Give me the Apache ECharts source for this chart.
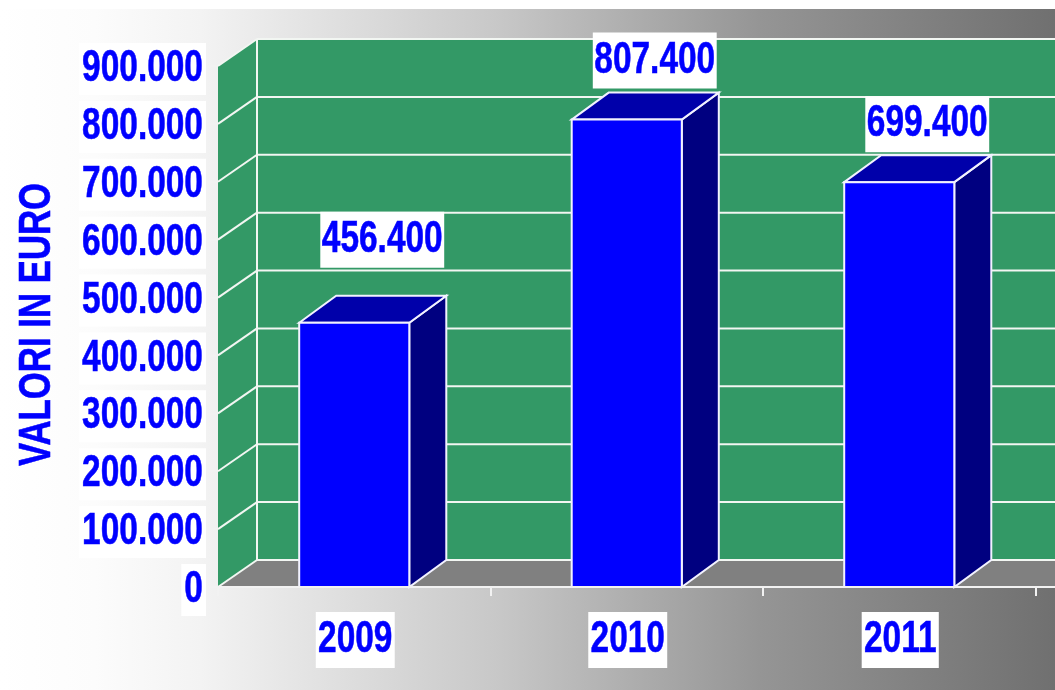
<!DOCTYPE html>
<html>
<head>
<meta charset="utf-8">
<style>
  html, body { margin: 0; padding: 0; background: #fff; overflow: hidden; }
  #chart { width: 1055px; height: 690px; }
</style>
<script src="https://cdn.jsdelivr.net/npm/echarts@6/dist/echarts.min.js"></script>
</head>
<body>
<div id="chart"></div>
<script>
// Yearly values in euro; the trailing blank band lets the box run off the right edge.
const categories = ['2009', '2010', '2011', ''];
const values = [456400, 807400, 699400];
const yTicks = [0, 100000, 200000, 300000, 400000, 500000, 600000, 700000, 800000, 900000];
const axisTitle = 'VALORI IN EURO';

// How far each value label sits above its bar.
const labelLifts = [83, 59, 58];

const FONT = 'bold 44px "Liberation Sans", Arial, sans-serif';
const SQUEEZE = 0.76;
const BLUE = '#0000ff';
const WALL = { dx: 39, dy: -27 };
const BOX = { dx: 37, dy: -27 };

// Italian thousands separator.
const euro = v => String(v).replace(/\B(?=(\d{3})+(?!\d))/g, '.');

function poly(points, fill, stroke) {
  return {
    type: 'polygon',
    shape: { points },
    style: { fill, stroke: stroke || null, lineWidth: stroke ? 2 : 0 }
  };
}

function line(a, b) {
  return {
    type: 'line',
    shape: { x1: a[0], y1: a[1], x2: b[0], y2: b[1] },
    style: { stroke: '#f2f6f2', lineWidth: 2 }
  };
}

// Condensed bold blue text on a white plate.
function plate(text, x, y, align, padY, padX) {
  return {
    type: 'text',
    x,
    y,
    scaleX: SQUEEZE,
    z2: 20,
    style: {
      x: 0,
      y: 0,
      text,
      align,
      verticalAlign: 'middle',
      font: FONT,
      fill: BLUE,
      stroke: BLUE,
      lineWidth: 0.6,
      backgroundColor: '#fff',
      padding: [padY, padX, padY, padX]
    }
  };
}

// Floor, side wall and back wall with their grid lines, plus the axis captions.
function renderRoom(params, api) {
  const cs = params.coordSys;
  const left = cs.x;
  const right = cs.x + cs.width;
  const y0 = api.coord([0, 0])[1];
  const yTop = api.coord([0, yTicks[yTicks.length - 1]])[1];
  const bx = left + WALL.dx;
  const children = [
    poly([[bx, yTop + WALL.dy], [right, yTop + WALL.dy], [right, y0 + WALL.dy], [bx, y0 + WALL.dy]], '#339966'),
    poly([[left, yTop], [bx, yTop + WALL.dy], [bx, y0 + WALL.dy], [left, y0]], '#339966'),
    poly([[left, y0], [bx, y0 + WALL.dy], [right, y0 + WALL.dy], [right, y0]], '#808080'),
    line([bx, yTop + WALL.dy], [bx, y0 + WALL.dy])
  ];
  yTicks.forEach(t => {
    const y = api.coord([0, t])[1];
    children.push(line([left, y], [bx, y + WALL.dy]));
    children.push(line([bx, y + WALL.dy], [right, y + WALL.dy]));
    children.push(plate(euro(t), left - 12, y + 3, 'right', 4, 4));
  });
  categories.filter(Boolean).forEach(c => {
    const x = api.coord([categories.indexOf(c), 0])[0];
    children.push(plate(c, x + 1, y0 + 53, 'center', 6, 3));
  });
  children.push({
    type: 'text',
    x: 38,
    y: (y0 + yTop) / 2 - 2,
    rotation: Math.PI / 2,
    scaleX: 0.79,
    style: {
      x: 0,
      y: 0,
      text: axisTitle,
      align: 'center',
      verticalAlign: 'middle',
      font: FONT,
      fill: BLUE,
      stroke: BLUE,
      lineWidth: 0.6
    }
  });
  return { type: 'group', children };
}

// One extruded bar with its value label.
function renderBox(params, api) {
  const i = api.value(0);
  const v = api.value(1);
  const top = api.coord([i, v]);
  const base = api.coord([i, 0]);
  const w = api.size([1, 0])[0] * 0.404;
  const l = top[0] - w / 2;
  const r = top[0] + w / 2;
  const d = BOX;
  return {
    type: 'group',
    children: [
      poly([[r, top[1]], [r + d.dx, top[1] + d.dy], [r + d.dx, base[1] + d.dy], [r, base[1]]], '#000080', '#f2f2ff'),
      poly([[l, top[1]], [l + d.dx, top[1] + d.dy], [r + d.dx, top[1] + d.dy], [r, top[1]]], '#0000aa', '#f2f2ff'),
      poly([[l, top[1]], [r, top[1]], [r, base[1]], [l, base[1]]], BLUE, '#f2f2ff'),
      plate(euro(v), top[0] + 28, top[1] - labelLifts[i], 'center', 6, 2)
    ]
  };
}

const chart = echarts.init(document.getElementById('chart'), null, { renderer: 'canvas' });
chart.setOption({
  animation: false,
  backgroundColor: '#fff',
  graphic: [{
    type: 'rect',
    z: -10,
    silent: true,
    shape: { x: 0, y: 9, width: 1055, height: 681 },
    style: {
      fill: new echarts.graphic.LinearGradient(0, 0, 1, 0, [
        { offset: 0, color: '#ffffff' },
        { offset: 0.09, color: '#fcfcfc' },
        { offset: 0.19, color: '#f3f3f3' },
        { offset: 0.47, color: '#c8c8c8' },
        { offset: 0.72, color: '#959595' },
        { offset: 1, color: '#707070' }
      ])
    }
  }],
  grid: { left: 218, top: 66, width: 1090, height: 521, outerBoundsMode: 'none', containLabel: false },
  xAxis: {
    type: 'category',
    data: categories,
    z: 5,
    axisLine: { show: true, lineStyle: { color: '#f2f2f2', width: 2 } },
    axisTick: { show: true, alignWithLabel: false, length: 9, lineStyle: { color: '#f2f2f2', width: 2 } },
    axisLabel: { show: false },
    splitLine: { show: false }
  },
  yAxis: {
    type: 'value',
    min: 0,
    max: 900000,
    interval: 100000,
    axisLine: { show: false },
    axisTick: { show: true, length: 10, lineStyle: { color: '#f2f2f2', width: 2 } },
    axisLabel: { show: false },
    splitLine: { show: false }
  },
  series: [
    {
      type: 'custom',
      name: 'room',
      z: 1,
      silent: true,
      clip: false,
      renderItem: renderRoom,
      data: [[0, 0]],
      encode: { x: 0, y: 1 }
    },
    {
      type: 'custom',
      name: 'Valori',
      z: 3,
      clip: false,
      renderItem: renderBox,
      data: values.map((v, i) => [i, v]),
      encode: { x: 0, y: 1 }
    }
  ]
});
</script>
</body>
</html>
